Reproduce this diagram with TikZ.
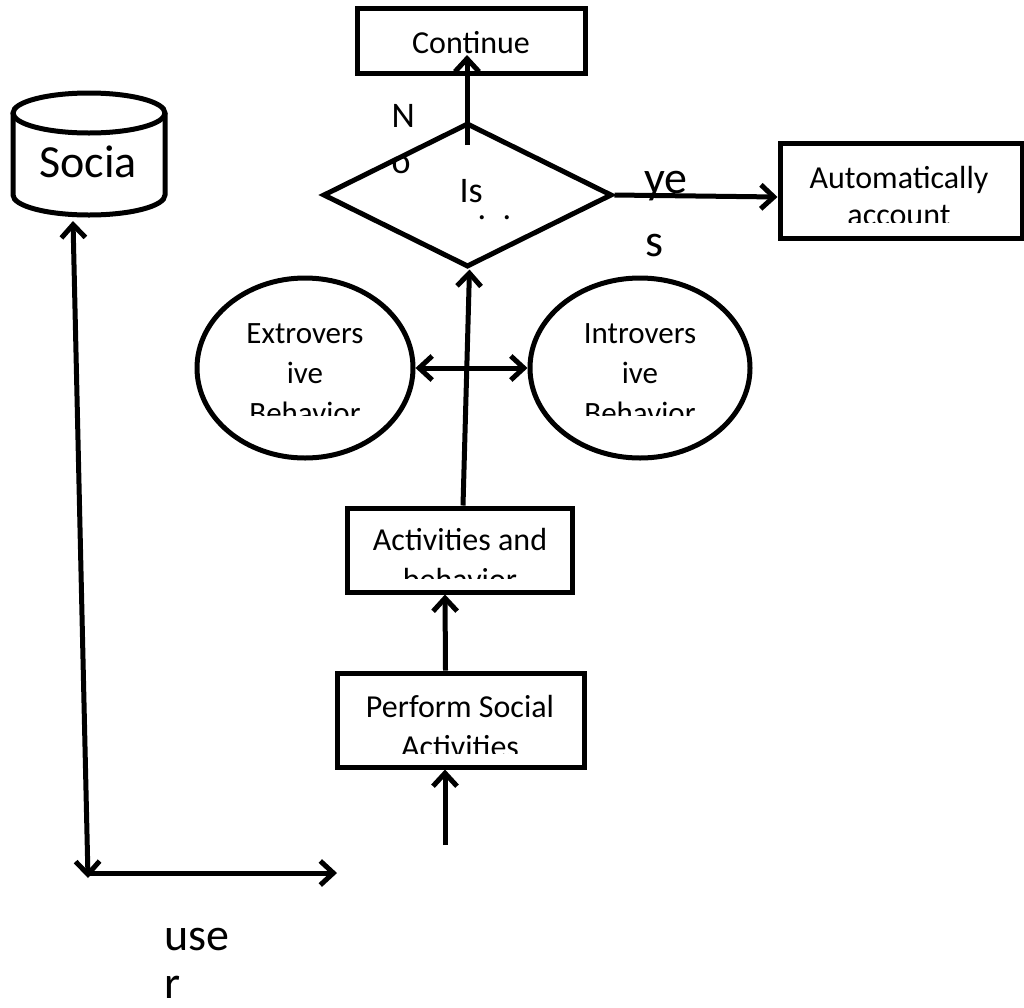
\documentclass[tikz,border=0pt]{standalone}
\usepackage{fontspec}
\setmainfont{Carlito}
\usetikzlibrary{arrows.meta,shapes.geometric}
\begin{document}
\begin{tikzpicture}[x=1pt,y=-1pt,
  line width=5pt,
  >={Straight Barb[length=13pt,width=24pt,line width=5pt]},
  box/.style={draw,rectangle,inner sep=0pt},
  oval/.style={draw,ellipse,inner sep=0pt},
  txt/.style={inner sep=0pt,anchor=base,font=\fontsize{32}{38}\selectfont},
  otxt/.style={inner sep=0pt,anchor=base,font=\fontsize{31}{38}\selectfont},
  big/.style={inner sep=0pt,anchor=base west,font=\fontsize{46}{50}\selectfont},
  mid/.style={inner sep=0pt,anchor=base west,font=\fontsize{36}{40}\selectfont},
  arr/.style={->},
  darr/.style={<->}
]
\useasboundingbox (0,0) rectangle (1024,1007);
\fill[white] (0,0) rectangle (1024,1007);

% boxes
\node[box,minimum width=228pt,minimum height=65pt] (cont) at (471,40.5) {};
\node[txt] (conttxt) at (471,53) {Continue};

\node[box,minimum width=242pt,minimum height=95pt] (auto) at (901,190.5) {};
\begin{scope}
\clip (783,146) rectangle (1019,222);
\node[txt] (autotxt1) at (899,188) {Automatically};
\node[txt] (autotxt2) at (899,225) {account};
\end{scope}

\node[box,minimum width=225pt,minimum height=84pt] (act) at (459.5,550) {};
\begin{scope}
\clip (350,511) rectangle (569,578);
\node[txt] (acttxt1) at (460,550) {Activities and};
\node[txt] (acttxt2) at (460,590) {behavior};
\end{scope}

\node[box,minimum width=247pt,minimum height=94pt] (perf) at (460.5,720) {};
\begin{scope}
\clip (340,676) rectangle (581,753);
\node[txt] (perftxt1) at (460,717) {Perform Social};
\node[txt] (perftxt2) at (460,757) {Activities};
\end{scope}

% diamond
\node[draw,diamond,minimum width=289pt,minimum height=144pt,inner sep=0pt] (dec) at (467.5,195) {};
\node[mid] (istxt) at (457,202) {Is};
\node[inner sep=0pt,font=\fontsize{34}{34}\selectfont] (dot1) at (482,218) {.};
\node[inner sep=0pt,font=\fontsize{34}{34}\selectfont] (dot2) at (507,218) {.};

% ellipses
\node[oval,minimum width=216pt,minimum height=180pt] (ext) at (305,368) {};
\begin{scope}
\clip (200,280) rectangle (410,415);
\node[otxt] (ext1) at (305,343) {Extrovers};
\node[otxt] (ext2) at (305,383) {ive};
\node[otxt] (ext3) at (305,423) {Behavior};
\end{scope}
\node[oval,minimum width=220pt,minimum height=180pt] (intr) at (640,368) {};
\begin{scope}
\clip (533,280) rectangle (748,415);
\node[otxt] (int1) at (640,343) {Introvers};
\node[otxt] (int2) at (640,383) {ive};
\node[otxt] (int3) at (640,423) {Behavior};
\end{scope}

% cylinder
\draw (89,113) ellipse (76 and 20);
\draw (13,113) -- (13,195) arc (180:0:76 and 20) -- (165,113);
\node[inner sep=0pt,minimum width=152pt,minimum height=120pt] (db) at (89,155) {};
\node[txt,font=\fontsize{46}{50}\selectfont] (dbtxt) at (88,177) {Socia};

% labels
\node[mid] (n1) at (389,127) {N};
\node[mid] (n2) at (389,173) {o};
\node[big] (y1) at (642,193) {ye};
\node[big] (y2) at (643,256) {s};
\node[big] (u1) at (162,950) {use};
\node[big] (u2) at (162,998) {r};

% connectors
\coordinate (decin) at (467,145);
\coordinate (conttip) at (467,55);
\draw[arr] (decin) -- (conttip);
\draw[arr] (dec.east) -- ([yshift=-2pt]dec.east -| auto.west);
\draw[arr] ([xshift=3.5pt]act.north) -- ([xshift=2pt]dec.south);
\draw[darr] (ext.east) -- (intr.west);
\draw[arr] ([xshift=-15pt]perf.north) -- ([xshift=-14.5pt]act.south);
\coordinate (bot) at (445,845);
\draw[arr] (bot) -- ([xshift=-15.5pt]perf.south);
\coordinate (corner) at (88,878);
\coordinate (dbbot) at (73,221);
\draw[darr] (dbbot) -- (corner);
\coordinate (hstart) at (88,873);
\coordinate (hend) at (337,873);
\draw[arr] (hstart) -- (hend);
\end{tikzpicture}
\end{document}
